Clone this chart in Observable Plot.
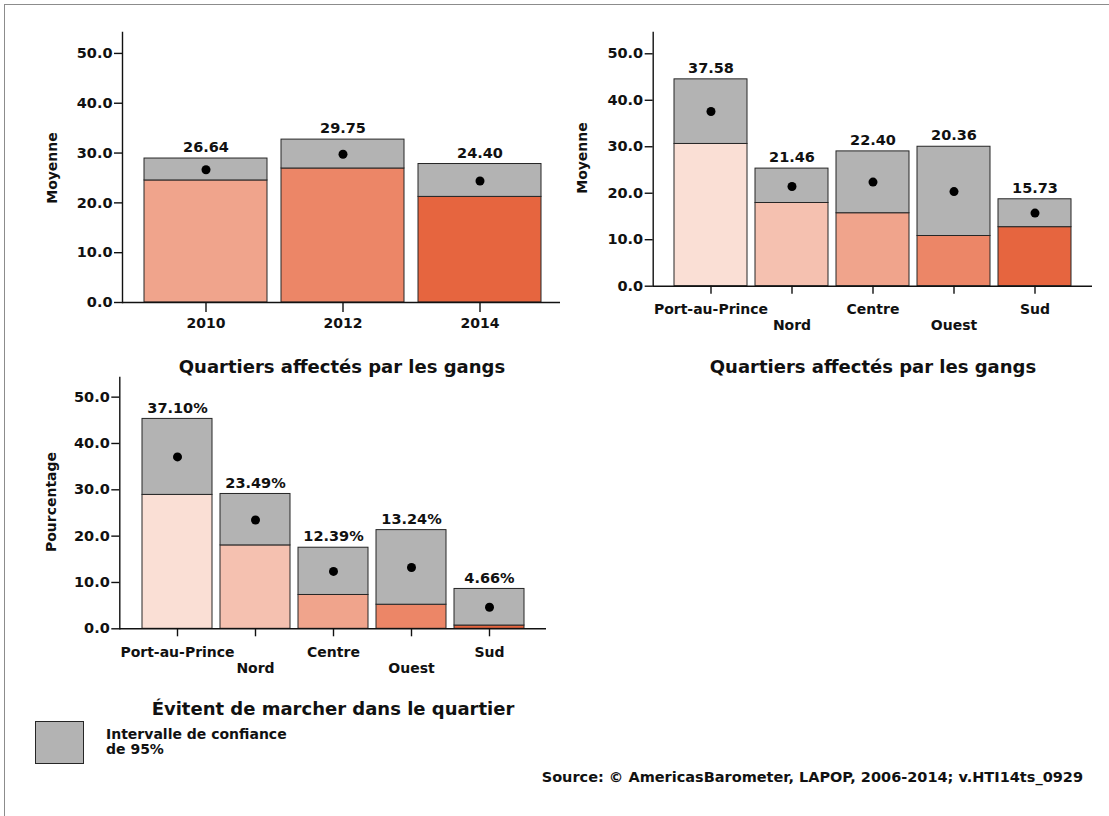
<!DOCTYPE html>
<html><head><meta charset="utf-8">
<script src="https://cdn.jsdelivr.net/npm/d3@7"></script>
<script src="https://cdn.jsdelivr.net/npm/@observablehq/plot@0.6"></script>
<style>
body{margin:0;background:#fff;font-family:"DejaVu Sans",sans-serif;font-weight:bold;color:#111}
#root{position:relative;width:1109px;height:816px;overflow:hidden;background:#fff}
#border{position:absolute;left:4px;top:4px;width:1200px;height:900px;border-top:1.5px solid #8c8c8c;border-left:1.5px solid #8c8c8c}
.panel{position:absolute}
.title{position:absolute;font-size:18px;transform:translate(-50%,-50%);white-space:nowrap}
.ylab{position:absolute;font-size:14px;transform:translate(-50%,-50%) rotate(-90deg);white-space:nowrap}
.leg{position:absolute;font-size:14px;line-height:15px}
.src{position:absolute;font-size:14.5px;white-space:nowrap;transform:translate(-100%,-50%)}
</style></head><body><div id="root"><div id="border"></div></div>
<script>
// ---- data ----
const years = ["2010", "2012", "2014"];
const yearMean = [26.64, 29.75, 24.40];
const yearLow = [24.5, 26.9, 21.2];
const yearHigh = [28.9, 32.7, 27.8];

const regions = ["Port-au-Prince", "Nord", "Centre", "Ouest", "Sud"];
const gangMean = [37.58, 21.46, 22.40, 20.36, 15.73];
const gangLow = [30.6, 17.9, 15.7, 10.8, 12.7];
const gangHigh = [44.5, 25.3, 29.0, 30.0, 18.7];

const walkMean = [37.10, 23.49, 12.39, 13.24, 4.66];
const walkLow = [28.9, 18.0, 7.3, 5.2, 0.7];
const walkHigh = [45.3, 29.1, 17.5, 21.3, 8.6];

const yTicks = [0, 10, 20, 30, 40, 50];

const yearColors = ["#f0a48c", "#ec8667", "#e6653f"];
const regionColors = ["#fadfd5", "#f5c1b0", "#f0a48c", "#ec8667", "#e6653f"];
const ciColor = "#b3b3b3";

const root = document.getElementById("root");

function panel(o) {
  const data = o.cats.map((c, i) => ({c, mean: o.mean[i], low: o.low[i], high: o.high[i], color: o.colors[i]}));
  const marks = [
    Plot.barY(data, {x: "c", y1: 0, y2: "low", fill: "color", stroke: "#262626", strokeWidth: 1}),
    Plot.barY(data, {x: "c", y1: "low", y2: "high", fill: ciColor, stroke: "#262626", strokeWidth: 1}),
    Plot.dot(data, {x: "c", y: "mean", r: 4.5, fill: "#000", stroke: "none"}),
    Plot.text(data, {x: "c", y: "high", text: d => o.fmt(d.mean), dy: -11, fontSize: 14.5, fontWeight: "bold", fill: "#111"}),
    Plot.ruleY([0], {stroke: "#111", strokeWidth: 1.4}),
    Plot.frame({anchor: "left", stroke: "#111", strokeWidth: 1.4}),
    Plot.axisY({ticks: yTicks, tickFormat: d3.format(".1f"), tickSize: 8, tickPadding: 2, label: null, fontSize: 14.5, strokeWidth: 1.4})
  ];
  if (o.stagger) {
    marks.push(Plot.axisX({ticks: o.cats.filter((d, i) => i % 2 === 0), tickSize: 8, tickPadding: o.pad, label: null, fontSize: 14, strokeWidth: 1.4}));
    marks.push(Plot.axisX({ticks: o.cats.filter((d, i) => i % 2 === 1), tickSize: 8, tickPadding: o.pad + 16, label: null, fontSize: 14, strokeWidth: 1.4}));
  } else {
    marks.push(Plot.axisX({tickSize: 10, tickPadding: o.pad, label: null, fontSize: 14, strokeWidth: 1.4}));
  }
  const svg = Plot.plot({
    width: o.width, height: o.height,
    marginLeft: o.mL, marginRight: o.mR, marginTop: o.mT, marginBottom: o.mB,
    style: {fontFamily: "DejaVu Sans", fontWeight: "bold", fontSize: "14.5px", color: "#111", background: "transparent", overflow: "visible"},
    x: {type: "band", domain: o.cats, range: o.xRange, paddingInner: 0.1, paddingOuter: 0.05, align: 0.5},
    y: {domain: [0, o.yMax]},
    color: {type: "identity"},
    marks
  });
  svg.classList.add("panel");
  svg.style.left = o.left + "px";
  svg.style.top = o.top + "px";
  root.appendChild(svg);
}

const f2 = d3.format(".2f");
panel({cats: years, mean: yearMean, low: yearLow, high: yearHigh, colors: yearColors, fmt: f2,
  left: 0, top: 0, width: 580, height: 345, mL: 122, mR: 20, mT: 32, mB: 43,
  xRange: [137.5, 548.5], yMax: 54.2, stagger: false, pad: 6});
panel({cats: regions, mean: gangMean, low: gangLow, high: gangHigh, colors: regionColors, fmt: f2,
  left: 560, top: 0, width: 549, height: 345, mL: 92.7, mR: 17, mT: 32, mB: 59.3,
  xRange: [108.9, 515.1], yMax: 54.58, stagger: true, pad: 10});
panel({cats: regions, mean: walkMean, low: walkLow, high: walkHigh, colors: regionColors, fmt: d => f2(d) + "%",
  left: 0, top: 360, width: 570, height: 340, mL: 119.3, mR: 24, mT: 17, mB: 71.7,
  xRange: [136, 529.4], yMax: 54.24, stagger: true, pad: 10});

function addDiv(cls, text, x, y) {
  const d = document.createElement("div");
  d.className = cls; d.textContent = text;
  d.style.left = x + "px"; d.style.top = y + "px";
  root.appendChild(d);
  return d;
}
addDiv("title", "Quartiers affectés par les gangs", 342, 366);
addDiv("title", "Quartiers affectés par les gangs", 873, 366);
addDiv("title", "Évitent de marcher dans le quartier", 333, 708);
addDiv("ylab", "Moyenne", 52, 168);
addDiv("ylab", "Moyenne", 582, 158);
addDiv("ylab", "Pourcentage", 51, 502);

const box = document.createElement("div");
box.style.cssText = "position:absolute;left:35px;top:721px;width:47px;height:41px;background:" + ciColor + ";border:1px solid #262626";
root.appendChild(box);
const leg = addDiv("leg", "", 106, 727);
leg.innerHTML = "Intervalle de confiance<br>de 95%";
addDiv("src", "Source: © AmericasBarometer, LAPOP, 2006-2014; v.HTI14ts_0929", 1083, 777);
</script></body></html>
